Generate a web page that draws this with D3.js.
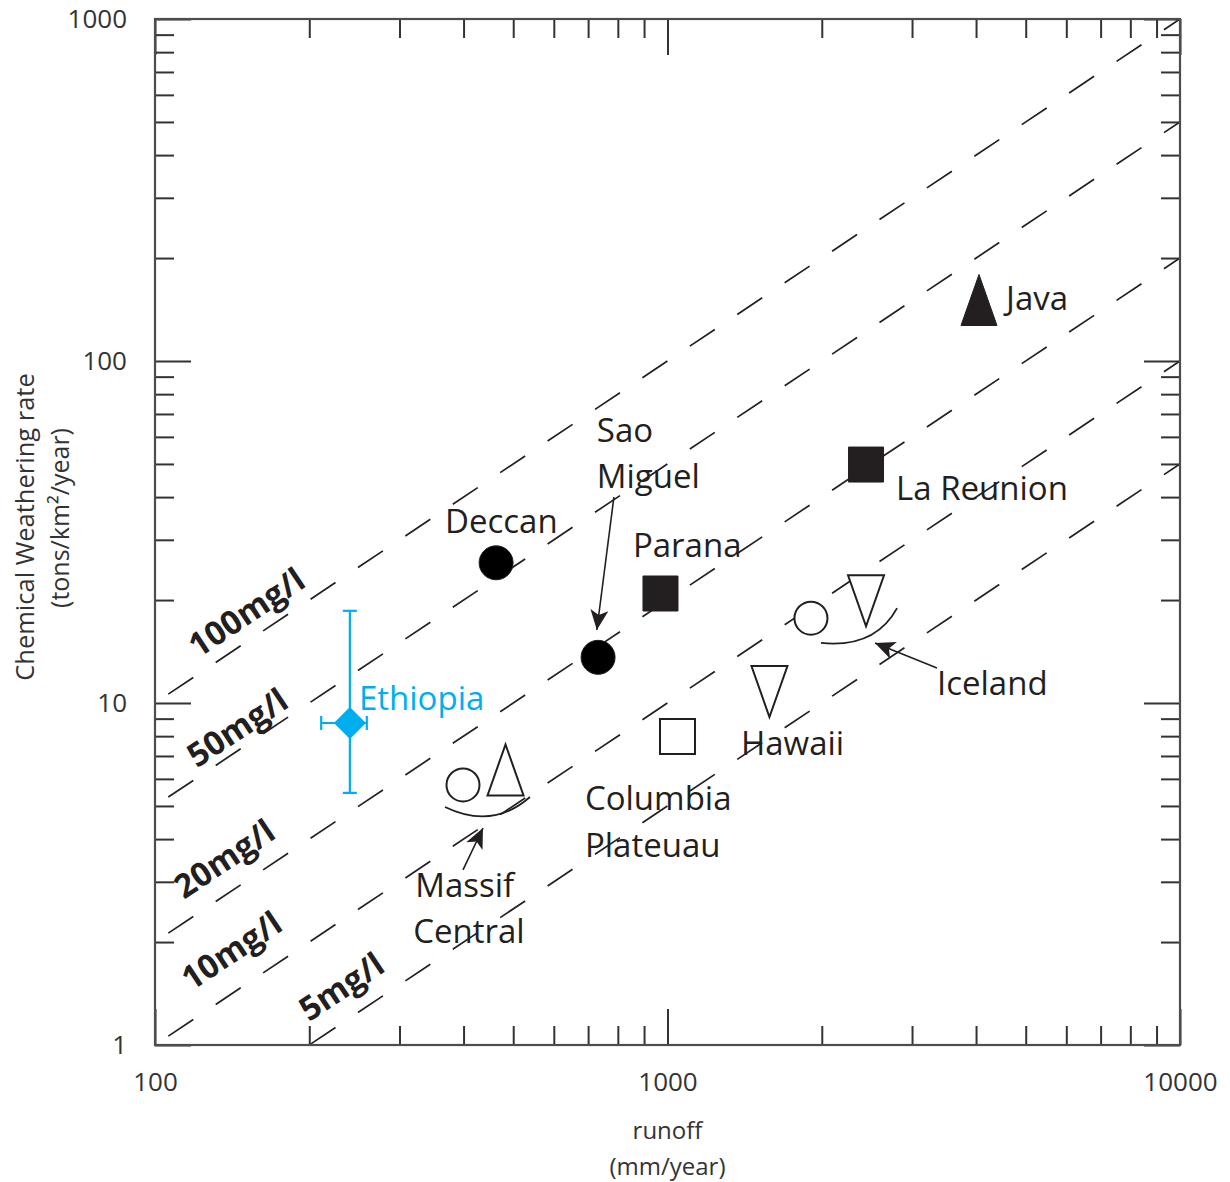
<!DOCTYPE html>
<html><head><meta charset="utf-8">
<script src="https://cdn.jsdelivr.net/npm/d3@7"></script>
<style>
body{margin:0;background:#fff}
svg text{font-family:"Open Sans",sans-serif}
</style>
</head><body>
<svg id="chart" width="1230" height="1182"></svg>
<script>
// ---------- data ----------
const xMajorTicks = [100, 1000, 10000];
const yMajorTicks = [1, 10, 100, 1000];
const xTickLabels = ["100", "1000", "10000"];
const yTickLabels = ["1", "10", "100", "1000"];

// iso-concentration lines (mg/l): rate = runoff * C / 1000
const concentrations = [100, 50, 20, 10, 5];
const concLabels = ["100mg/l", "50mg/l", "20mg/l", "10mg/l", "5mg/l"];
const concLabelRunoff = [150.5, 144.5, 136.3, 140.7, 230.7];
const concLabelRate = [18.5, 8.51, 3.52, 1.896, 1.488];

// sites
const siteNames   = ["Deccan","Sao Miguel","Parana","La Reunion","Java","Massif Central","Massif Central","Columbia Plateau","Hawaii","Iceland","Iceland"];
const siteRunoff  = [463, 732, 969, 2440, 4053, 399, 483, 1046, 1581, 1905, 2440];
const siteRate    = [25.7, 13.6, 20.9, 49.8, 150.8, 5.76, 6.37, 7.98, 10.8, 17.7, 19.9];
const siteSymbol  = ["circle","circle","square","square","triangle","circle","triangle","square","triangleDown","circle","triangleDown"];
const siteFilled  = [true, true, true, true, true, false, false, false, false, false, false];

// Ethiopia (with error bars)
const ethRunoff = [240];
const ethRate = [8.74];
const ethRunoffRange = [211, 259];
const ethRateRange = [5.46, 18.6];

// text annotations
const labelText   = ["Deccan","Sao","Miguel","Parana","Java","La Reunion","Massif","Central","Columbia","Plateuau","Hawaii","Iceland"];
const labelRunoff = [368, 728, 728, 856, 4577, 2792, 322, 319, 690, 690, 1391, 3356];
const labelRate   = [31.4, 58.0, 42.5, 26.7, 141, 39.2, 2.71, 1.99, 4.87, 3.55, 7.05, 10.55];

// pointer arrows (Sao Miguel, Massif Central, Iceland)
const arrowFromRunoff = [786, 399, 3356];
const arrowFromRate   = [40.0, 3.25, 12.66];
const arrowToRunoff   = [728, 436.5, 2540];
const arrowToRate     = [16.35, 4.31, 14.98];

// grouping arcs (Massif Central, Iceland): start, middle, end
const arcRunoff = [[368, 450.5, 539], [1993, 2451, 2805]];
const arcRate   = [[4.965, 4.673, 5.31], [14.98, 15.6, 18.95]];

// ---------- layout ----------
const svg = d3.select("#chart");
const L = 155, R = 1180, T = 19, B = 1045;
const x = d3.scaleLog().domain([100, 10000]).range([L, R]);
const y = d3.scaleLog().domain([1, 1000]).range([B, T]);
const ink = "#231f20";
const cyan = "#00aeef";

const minor = (lo, hi) => {
  const out = [];
  for (let d = lo; d < hi; d *= 10) for (let k = 2; k <= 9; k++) out.push(d * k);
  return out;
};
const xMinor = minor(100, 10000);
const yMinor = minor(1, 1000);

// clip
svg.append("defs").append("clipPath").attr("id", "plotClip")
  .append("rect").attr("x", L).attr("y", T).attr("width", R - L).attr("height", B - T);

const defs = svg.select("defs");
defs.append("marker").attr("id", "arrowHead")
  .attr("markerUnits", "userSpaceOnUse")
  .attr("viewBox", "-22 -11 24 22")
  .attr("markerWidth", 24).attr("markerHeight", 22)
  .attr("refX", 0).attr("refY", 0).attr("orient", "auto")
  .append("path").attr("d", "M0,0 L-20,-9 L-15,0 L-20,9 Z").attr("fill", ink);

// ---------- iso-concentration dashed lines ----------
const gLines = svg.append("g").attr("clip-path", "url(#plotClip)");
const lineGen = d3.line().x(d => x(d[0])).y(d => y(d[1]));
concentrations.forEach(c => {
  const pts = [[100, 100 * c / 1000], [10000, 10000 * c / 1000]];
  gLines.append("path").attr("d", lineGen(pts))
    .attr("fill", "none").attr("stroke", ink).attr("stroke-width", 1.7)
    .attr("stroke-dasharray", "30,27").attr("stroke-dashoffset", -16);
});

const angle = Math.atan2(y(100) - y(10), x(1000) - x(100)) * 180 / Math.PI;
concLabels.forEach((t, i) => {
  const px = x(concLabelRunoff[i]), py = y(concLabelRate[i]);
  svg.append("text").text(t)
    .attr("transform", `translate(${px},${py}) rotate(${angle})`)
    .attr("text-anchor", "middle").attr("dominant-baseline", "central")
    .attr("font-weight", "bold").attr("font-size", 33).attr("fill", ink);
});

// ---------- axes ----------
const tickStyle = g => {
  g.select(".domain").remove();
  g.selectAll(".tick line").attr("stroke", "#333").attr("stroke-width", 2);
  g.selectAll(".tick text").attr("fill", "#333").attr("font-size", 26)
    .attr("font-family", "'Open Sans', sans-serif");
};
const fmt = (vals, labels) => d => labels[vals.indexOf(d)];

svg.append("g").attr("transform", `translate(0,${B})`)
  .call(d3.axisBottom(x).tickValues(xMajorTicks).tickFormat(fmt(xMajorTicks, xTickLabels)).tickSize(-36).tickPadding(28)).call(tickStyle);
svg.append("g").attr("transform", `translate(0,${B})`)
  .call(d3.axisBottom(x).tickValues(xMinor).tickFormat("").tickSize(-19)).call(tickStyle);
svg.append("g").attr("transform", `translate(0,${T})`)
  .call(d3.axisTop(x).tickValues(xMajorTicks).tickFormat("").tickSize(-36)).call(tickStyle);
svg.append("g").attr("transform", `translate(0,${T})`)
  .call(d3.axisTop(x).tickValues(xMinor).tickFormat("").tickSize(-19)).call(tickStyle);

svg.append("g").attr("transform", `translate(${L},0)`)
  .call(d3.axisLeft(y).tickValues(yMajorTicks).tickFormat(fmt(yMajorTicks, yTickLabels)).tickSize(-36).tickPadding(28)).call(tickStyle);
svg.append("g").attr("transform", `translate(${L},0)`)
  .call(d3.axisLeft(y).tickValues(yMinor).tickFormat("").tickSize(-19)).call(tickStyle);
svg.append("g").attr("transform", `translate(${R},0)`)
  .call(d3.axisRight(y).tickValues(yMajorTicks).tickFormat("").tickSize(-36)).call(tickStyle);
svg.append("g").attr("transform", `translate(${R},0)`)
  .call(d3.axisRight(y).tickValues(yMinor).tickFormat("").tickSize(-19)).call(tickStyle);

// frame
svg.append("rect").attr("x", L).attr("y", T).attr("width", R - L).attr("height", B - T)
  .attr("fill", "none").attr("stroke", "#4d4d4d").attr("stroke-width", 2.2);

// axis titles
svg.append("text").attr("x", (L + R) / 2).attr("y", 1139).attr("text-anchor", "middle")
  .attr("font-size", 24).attr("fill", "#333").text("runoff");
svg.append("text").attr("x", (L + R) / 2).attr("y", 1175).attr("text-anchor", "middle")
  .attr("font-size", 24).attr("fill", "#333").text("(mm/year)");
svg.append("text").attr("transform", "translate(34,527) rotate(-90)").attr("text-anchor", "middle")
  .attr("font-size", 25.5).attr("fill", "#333").text("Chemical Weathering rate");
svg.append("text").attr("transform", "translate(69,518) rotate(-90)").attr("text-anchor", "middle")
  .attr("font-size", 25).attr("fill", "#333").text("(tons/km\u00B2/year)");

// ---------- grouping arcs ----------
arcRunoff.forEach((rs, i) => {
  const p0 = [x(rs[0]), y(arcRate[i][0])], pm = [x(rs[1]), y(arcRate[i][1])], p1 = [x(rs[2]), y(arcRate[i][2])];
  const c = [2 * pm[0] - (p0[0] + p1[0]) / 2, 2 * pm[1] - (p0[1] + p1[1]) / 2];
  svg.append("path").attr("d", `M${p0[0]},${p0[1]} Q${c[0]},${c[1]} ${p1[0]},${p1[1]}`)
    .attr("fill", "none").attr("stroke", ink).attr("stroke-width", 1.8);
});

// ---------- arrows ----------
arrowFromRunoff.forEach((r, i) => {
  svg.append("line")
    .attr("x1", x(r)).attr("y1", y(arrowFromRate[i]))
    .attr("x2", x(arrowToRunoff[i])).attr("y2", y(arrowToRate[i]))
    .attr("stroke", ink).attr("stroke-width", 1.6).attr("marker-end", "url(#arrowHead)");
});

// ---------- site symbols ----------
const symbolPath = (type) => {
  const w = 36, h = 51, s = 35;
  switch (type) {
    case "square": return `M${-s/2},${-s/2}h${s}v${s}h${-s}Z`;
    case "triangle": return `M0,${-h/2}L${w/2},${h/2}L${-w/2},${h/2}Z`;
    case "triangleDown": return `M${-w/2},${-h/2}L${w/2},${-h/2}L0,${h/2}Z`;
  }
};
siteNames.forEach((n, i) => {
  const px = x(siteRunoff[i]), py = y(siteRate[i]);
  const filled = siteFilled[i];
  let el;
  if (siteSymbol[i] === "circle") {
    el = svg.append("circle").attr("cx", px).attr("cy", py).attr("r", filled ? 17 : 16.5);
  } else {
    el = svg.append("path").attr("d", symbolPath(siteSymbol[i])).attr("transform", `translate(${px},${py})`);
  }
  el.attr("fill", filled ? (siteSymbol[i] === "circle" ? "#000" : ink) : "#fff")
    .attr("stroke", ink).attr("stroke-width", filled ? 1 : 2);
});

// ---------- Ethiopia ----------
const ex = x(ethRunoff[0]), ey = y(ethRate[0]);
const gE = svg.append("g").attr("stroke", cyan).attr("stroke-width", 2.2);
gE.append("line").attr("x1", ex).attr("x2", ex).attr("y1", y(ethRateRange[0])).attr("y2", y(ethRateRange[1]));
[ethRateRange[0], ethRateRange[1]].forEach(v => gE.append("line").attr("x1", ex - 7).attr("x2", ex + 7).attr("y1", y(v)).attr("y2", y(v)));
gE.append("line").attr("y1", ey).attr("y2", ey).attr("x1", x(ethRunoffRange[0])).attr("x2", x(ethRunoffRange[1]));
[ethRunoffRange[0], ethRunoffRange[1]].forEach(v => gE.append("line").attr("y1", ey - 7).attr("y2", ey + 7).attr("x1", x(v)).attr("x2", x(v)));
svg.append("path").attr("d", "M0,-16L16,0L0,16L-16,0Z").attr("transform", `translate(${ex},${ey})`).attr("fill", cyan);
svg.append("text").attr("x", x(250)).attr("y", y(9.54)).attr("font-size", 33).attr("fill", cyan).text("Ethiopia");

// ---------- labels ----------
labelText.forEach((t, i) => {
  svg.append("text").attr("x", x(labelRunoff[i])).attr("y", y(labelRate[i]))
    .attr("font-size", 33).attr("fill", ink).text(t);
});
</script>
</body></html>
